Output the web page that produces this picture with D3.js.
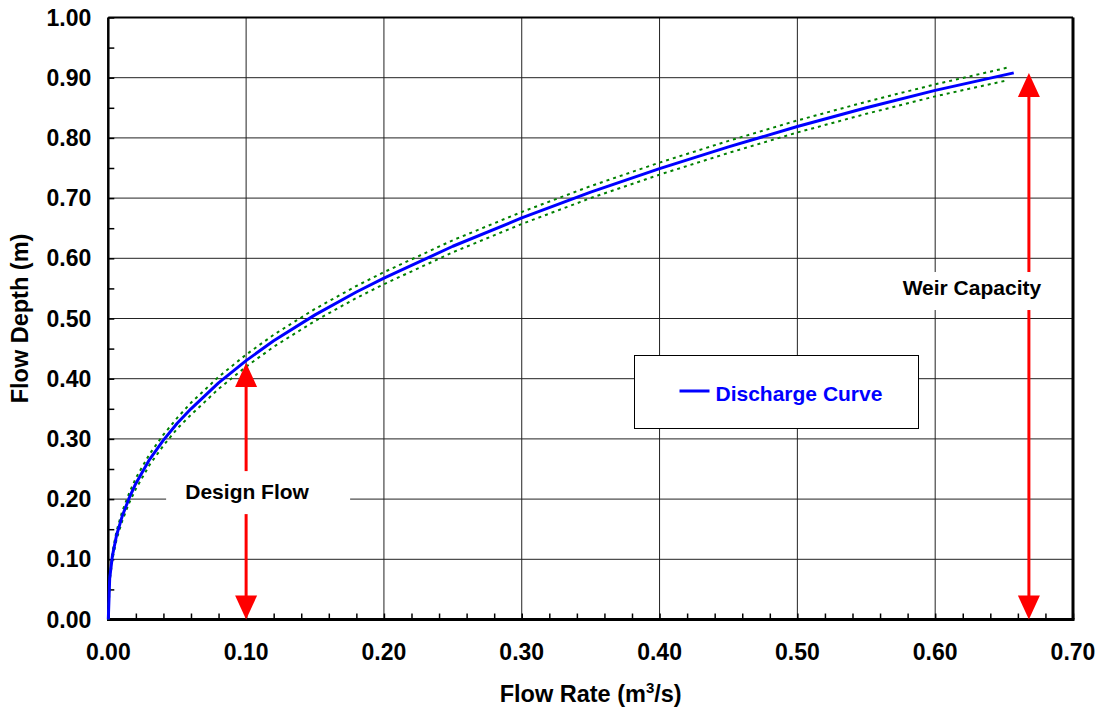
<!DOCTYPE html>
<html>
<head>
<meta charset="utf-8">
<script src="https://cdn.jsdelivr.net/npm/d3@7"></script>
<style>
  body { margin: 0; background: #fff; }
  text { font-family: Arial, "Liberation Sans", sans-serif; font-weight: bold; }
</style>
</head>
<body>
<div id="chart"></div>
<script>
// discharge curve
var flowRate = [0, 0.001, 0.003, 0.006, 0.01, 0.015, 0.02, 0.03, 0.04, 0.05, 0.06, 0.08, 0.10, 0.12, 0.15, 0.18, 0.20, 0.25, 0.30, 0.35, 0.40, 0.45, 0.50, 0.55, 0.60, 0.657];
var flowDepth = [0, 0.068, 0.106, 0.140, 0.171, 0.201, 0.226, 0.266, 0.298, 0.326, 0.350, 0.393, 0.430, 0.463, 0.506, 0.544, 0.567, 0.620, 0.667, 0.710, 0.749, 0.785, 0.819, 0.850, 0.879, 0.908];

// dotted green bounds
var boundRate = [0, 0.001, 0.003, 0.006, 0.01, 0.015, 0.02, 0.03, 0.04, 0.05, 0.06, 0.08, 0.10, 0.12, 0.15, 0.18, 0.20, 0.25, 0.30, 0.35, 0.40, 0.45, 0.50, 0.55, 0.60, 0.653];
var upperDepth = [0, 0.072, 0.112, 0.147, 0.179, 0.209, 0.235, 0.275, 0.307, 0.335, 0.360, 0.403, 0.440, 0.473, 0.516, 0.554, 0.577, 0.630, 0.677, 0.720, 0.759, 0.795, 0.829, 0.860, 0.889, 0.917];
var lowerDepth = [0, 0.064, 0.100, 0.133, 0.163, 0.193, 0.217, 0.257, 0.289, 0.317, 0.340, 0.383, 0.420, 0.453, 0.496, 0.534, 0.557, 0.610, 0.657, 0.700, 0.739, 0.775, 0.809, 0.840, 0.869, 0.896];

// annotation arrows
var arrowNames = ["Design Flow", "Weir Capacity"];
var arrowRate = [0.10, 0.668];
var arrowDepth = [0.426, 0.908];
var arrowLabelDepth = [0.20, 0.539];

var xTicks = [0, 0.1, 0.2, 0.3, 0.4, 0.5, 0.6, 0.7];
var yTicks = [0, 0.1, 0.2, 0.3, 0.4, 0.5, 0.6, 0.7, 0.8, 0.9, 1.0];

var svgWidth = 1101;
var svgHeight = 713;
var margin = { top: 17.5, right: 28, bottom: 93.5, left: 108.3 };
var width = svgWidth - margin.left - margin.right;
var height = svgHeight - margin.top - margin.bottom;

var svg = d3.select("#chart")
  .append("svg")
  .attr("width", svgWidth)
  .attr("height", svgHeight);

var chartGroup = svg.append("g")
  .attr("transform", `translate(${margin.left}, ${margin.top})`);

var xScale = d3.scaleLinear().domain([0, 0.7]).range([0, width]);
var yScale = d3.scaleLinear().domain([0, 1]).range([height, 0]);

// gridlines
chartGroup.append("g")
  .selectAll("line")
  .data(xTicks)
  .enter()
  .append("line")
  .attr("x1", d => xScale(d))
  .attr("x2", d => xScale(d))
  .attr("y1", 0)
  .attr("y2", height)
  .attr("stroke", "#222")
  .attr("stroke-width", 1);

chartGroup.append("g")
  .selectAll("line")
  .data(yTicks)
  .enter()
  .append("line")
  .attr("x1", 0)
  .attr("x2", width)
  .attr("y1", d => yScale(d))
  .attr("y2", d => yScale(d))
  .attr("stroke", "#222")
  .attr("stroke-width", 1);

// minor ticks pointing inward
chartGroup.append("g")
  .call(d3.axisBottom(xScale).ticks(35).tickSize(-6).tickFormat(""))
  .attr("transform", `translate(0, ${height})`)
  .call(g => g.select(".domain").remove())
  .selectAll("line").attr("stroke", "#000").attr("stroke-width", 1.5);

chartGroup.append("g")
  .call(d3.axisLeft(yScale).ticks(20).tickSize(-6).tickFormat(""))
  .call(g => g.select(".domain").remove())
  .selectAll("line").attr("stroke", "#000").attr("stroke-width", 1.5);

// frame
chartGroup.append("line").attr("x1", 0).attr("x2", width).attr("y1", 0).attr("y2", 0)
  .attr("stroke", "#000").attr("stroke-width", 2);
chartGroup.append("line").attr("x1", width).attr("x2", width).attr("y1", 0).attr("y2", height)
  .attr("stroke", "#000").attr("stroke-width", 3);
chartGroup.append("line").attr("x1", 0).attr("x2", 0).attr("y1", 0).attr("y2", height + 1.5)
  .attr("stroke", "#000").attr("stroke-width", 2.5);
chartGroup.append("line").attr("x1", -1).attr("x2", width + 1.5).attr("y1", height).attr("y2", height)
  .attr("stroke", "#000").attr("stroke-width", 3);

// tick labels
chartGroup.append("g")
  .selectAll("text")
  .data(xTicks)
  .enter()
  .append("text")
  .attr("x", d => xScale(d))
  .attr("y", height + 40.5)
  .attr("text-anchor", "middle")
  .attr("font-size", "23px")
  .text(d => d.toFixed(2));

chartGroup.append("g")
  .selectAll("text")
  .data(yTicks)
  .enter()
  .append("text")
  .attr("x", -17)
  .attr("y", d => yScale(d))
  .attr("dy", "0.35em")
  .attr("text-anchor", "end")
  .attr("font-size", "23px")
  .text(d => d.toFixed(2));

// axis titles
var xTitle = svg.append("text")
  .attr("x", margin.left + width / 2)
  .attr("y", 702)
  .attr("text-anchor", "middle")
  .attr("font-size", "23.5px");
xTitle.append("tspan").text("Flow Rate (m");
xTitle.append("tspan").attr("font-size", "15px").attr("dy", -9).text("3");
xTitle.append("tspan").attr("dy", 9).text("/s)");

svg.append("text")
  .attr("transform", `translate(28, ${margin.top + height / 2}) rotate(-90)`)
  .attr("text-anchor", "middle")
  .attr("font-size", "23.5px")
  .text("Flow Depth (m)");

// curves
var curveLine = d3.line()
  .x(d => xScale(d[0]))
  .y(d => yScale(d[1]));

chartGroup.append("path")
  .datum(boundRate.map((q, i) => [q, upperDepth[i]]))
  .attr("d", curveLine)
  .attr("fill", "none")
  .attr("stroke", "#008000")
  .attr("stroke-width", 2)
  .attr("stroke-dasharray", "3,4");

chartGroup.append("path")
  .datum(boundRate.map((q, i) => [q, lowerDepth[i]]))
  .attr("d", curveLine)
  .attr("fill", "none")
  .attr("stroke", "#008000")
  .attr("stroke-width", 2)
  .attr("stroke-dasharray", "3,4");

chartGroup.append("path")
  .datum(flowRate.map((q, i) => [q, flowDepth[i]]))
  .attr("d", curveLine)
  .attr("fill", "none")
  .attr("stroke", "#0000ff")
  .attr("stroke-width", 3)
  .attr("stroke-linejoin", "round");

// arrows
var headW = 11, headH = 24;
arrowRate.forEach(function(q, i) {
  var ax = xScale(q);
  var top = yScale(arrowDepth[i]);
  var bot = yScale(0);
  chartGroup.append("line")
    .attr("x1", ax).attr("x2", ax)
    .attr("y1", top + headH - 2).attr("y2", bot - headH + 2)
    .attr("stroke", "#ff0000").attr("stroke-width", 3);
  chartGroup.append("path")
    .attr("d", `M${ax},${top} L${ax - headW},${top + headH} L${ax + headW},${top + headH} Z`)
    .attr("fill", "#ff0000");
  chartGroup.append("path")
    .attr("d", `M${ax},${bot} L${ax - headW},${bot - headH} L${ax + headW},${bot - headH} Z`)
    .attr("fill", "#ff0000");
});

// Design Flow label
var dfy = yScale(arrowLabelDepth[0]);
chartGroup.append("rect")
  .attr("x", xScale(arrowRate[0]) - 80)
  .attr("y", dfy - 28)
  .attr("width", 184)
  .attr("height", 43)
  .attr("fill", "#fff");
chartGroup.append("text")
  .attr("x", xScale(arrowRate[0]) + 1)
  .attr("y", dfy)
  .attr("text-anchor", "middle")
  .attr("font-size", "21px")
  .text(arrowNames[0]);

// Weir Capacity label
var wcy = yScale(arrowLabelDepth[1]);
chartGroup.append("rect")
  .attr("x", xScale(arrowRate[1]) - 148)
  .attr("y", wcy - 23)
  .attr("width", 180)
  .attr("height", 38)
  .attr("fill", "#fff");
chartGroup.append("text")
  .attr("x", xScale(arrowRate[1]) - 57)
  .attr("y", wcy)
  .attr("text-anchor", "middle")
  .attr("font-size", "21px")
  .text(arrowNames[1]);

// legend
var legend = svg.append("g").attr("transform", "translate(634.5, 355.5)");
legend.append("rect")
  .attr("width", 284)
  .attr("height", 73)
  .attr("fill", "#fff")
  .attr("stroke", "#000")
  .attr("stroke-width", 1);
legend.append("line")
  .attr("x1", 45).attr("x2", 75)
  .attr("y1", 35.5).attr("y2", 35.5)
  .attr("stroke", "#0000ff").attr("stroke-width", 3);
legend.append("text")
  .attr("x", 81)
  .attr("y", 45)
  .attr("font-size", "21px")
  .attr("fill", "#0000ff")
  .text("Discharge Curve");
</script>
</body>
</html>
